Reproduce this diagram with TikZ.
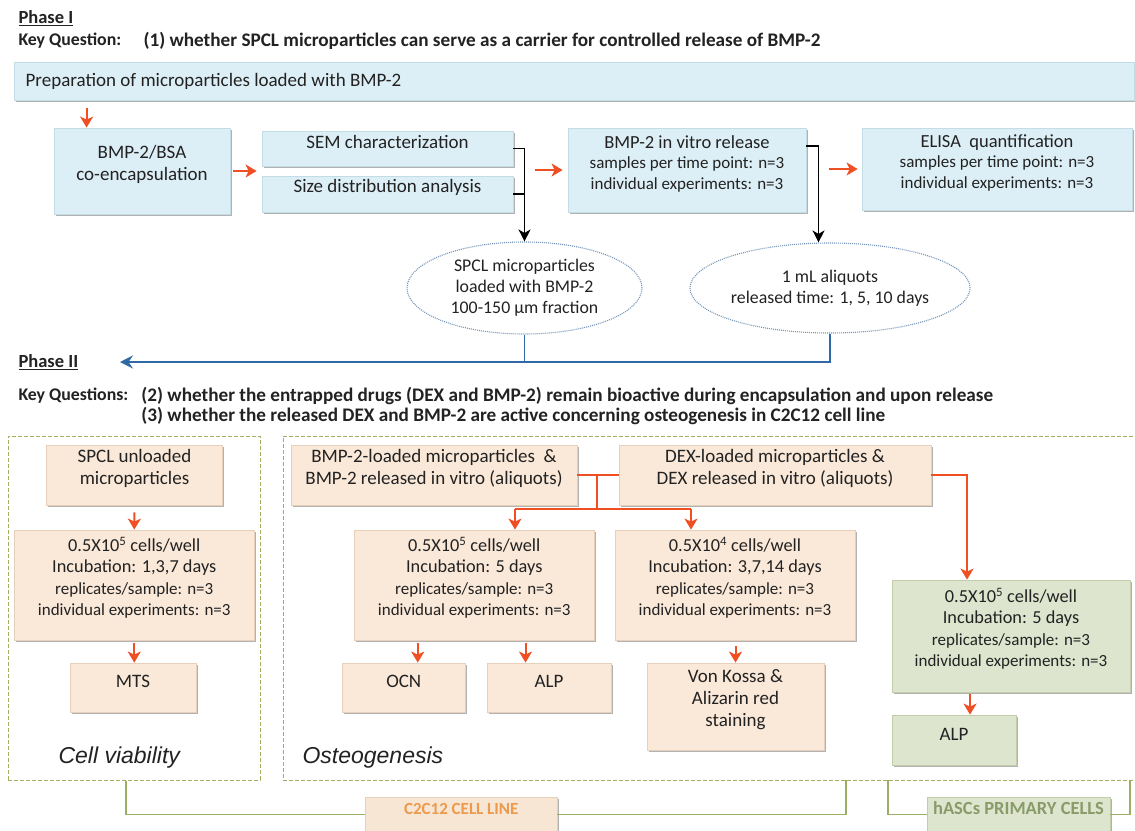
\documentclass[tikz,border=0pt]{standalone}
\usepackage{fontspec}
\setmainfont{Carlito}
\newfontfamily\arialf{Liberation Sans}
\usetikzlibrary{arrows.meta,shapes.geometric,fit,shadows,calc}
\definecolor{txt}{HTML}{222222}
\definecolor{bfill}{HTML}{DDEFF6}
\definecolor{bdraw}{HTML}{C4DCE6}
\definecolor{pfill}{HTML}{FAE9D9}
\definecolor{pdraw}{HTML}{E6D0BC}
\definecolor{gfill}{HTML}{DDE5CE}
\definecolor{gdraw}{HTML}{C2CDAA}
\definecolor{rarrc}{HTML}{F04E23}
\definecolor{bline}{HTML}{2F6AA6}
\definecolor{edot}{HTML}{7595BA}
\definecolor{olive}{HTML}{A5AF62}
\definecolor{gline}{HTML}{9AAE66}
\definecolor{c2c}{HTML}{EC9A4E}
\definecolor{c2cfill}{HTML}{F8E6D4}
\definecolor{hasc}{HTML}{8A9B6A}
\newcommand\fM{\fontsize{19}{22}\selectfont}
\newcommand\fT{\fontsize{18.5}{20.5}\selectfont}
\newcommand\fS{\fontsize{17}{20.5}\selectfont}
\newcommand\fC{\fontsize{18.3}{21.5}\selectfont}
\newcommand\fKl{\fontsize{17.8}{20}\selectfont}
\newcommand\fKa{\fontsize{19.2}{20}\selectfont}
\newcommand\fKb{\fontsize{19.2}{20}\selectfont}
\newcommand\fP{\fontsize{18.5}{22}\selectfont}
\newcommand\fE{\fontsize{17.8}{21}\selectfont}
\begin{document}
\begin{tikzpicture}[x=1pt,y=-1pt,
  every node/.style={text=txt},
  bbox/.style={fill=bfill, draw=bdraw, line width=0.8pt, inner sep=0pt, align=center, font=\fM,
    drop shadow={shadow xshift=1.8pt,shadow yshift=-1.8pt,opacity=0.3,fill=black}},
  pbox/.style={bbox, fill=pfill, draw=pdraw},
  gbox/.style={bbox, fill=gfill, draw=gdraw},
  ell/.style={ellipse, draw=edot, dash pattern=on 1pt off 1pt, line width=1.1pt, inner sep=0pt, align=center, font=\fE},
  rarr/.style={draw=rarrc, line width=2pt, -{Stealth[length=11pt,width=13pt,inset=3pt]}},
  rline/.style={draw=rarrc, line width=2pt},
  blk/.style={draw=black, line width=1.4pt, -{Stealth[length=12pt,width=12pt,inset=3.5pt]}},
  blkline/.style={draw=black, line width=1.4pt},
  bluel/.style={draw=bline, line width=1.8pt},
  dashbox/.style={draw=olive, line width=1pt, dash pattern=on 4pt off 2pt, inner sep=0pt},
  gl/.style={draw=gline, line width=1.6pt},
  lab/.style={inner sep=0pt, line width=0.8pt, font=\bfseries,
    drop shadow={shadow xshift=1.8pt,shadow yshift=-1.8pt,opacity=0.3,fill=black}}
]
\fill[white] (0,0) rectangle (1135,830);
\useasboundingbox (0,0) rectangle (1135,830);

% ---------- Phase I ----------
\node[anchor=west, font=\bfseries\fP] (ph1) at (15,18) {\underline{Phase I}};
\node[anchor=west, font=\bfseries\fKl] (kq1) at (15,41) {Key Question:};
\node[anchor=west, font=\bfseries\fKa] (kq1t) at (140,41) {(1) whether SPCL microparticles can serve as a carrier for controlled release of BMP-2};

\node[bbox, fit={(14,62)(1134,100)}] (prep) {};
\node[anchor=west, font=\fM] (preptxt) at ([xshift=8.5pt]prep.west) {Preparation of microparticles loaded with BMP-2};

\node[bbox, fit={(54,128)(230,214)}] (bmpbsa) {BMP-2/BSA\\co-encapsulation};
\node[bbox, fit={(262,131)(513,166)}] (sem) {SEM characterization};
\node[bbox, fit={(262,176)(513,212)}] (size) {Size distribution analysis};
\node[bbox, fit={(568,128)(806,212)}, font=\fS] (vitro) {{\fT BMP-2 in vitro release}\\samples per time point: n=3\\individual experiments: n=3};
\node[bbox, fit={(862,128)(1132,210)}, font=\fS] (elisa) {{\fT ELISA\ \ quantification}\\samples per time point: n=3\\individual experiments: n=3};

\node[ell, minimum width=235pt, minimum height=92pt] (e1) at (524.5,288) {SPCL microparticles\\loaded with BMP-2\\100-150 µm fraction};
\node[ell, minimum width=232pt, minimum height=90pt] (e2) at (830,288) {1 mL aliquots\\released time: 1, 5, 10 days};

\draw[rarr, shorten <=8pt] ([xshift=73pt]prep.south west) -- ([xshift=33pt]bmpbsa.north west);
\draw[rarr, shorten <=3pt, shorten >=5pt] (bmpbsa.east) -- (bmpbsa.east -| sem.west);
\draw[blk] (sem.east) -| (e1.north);
\draw[blkline] (size.east) -- (size.east -| e1.north);
\draw[rarr] ([xshift=-33pt]vitro.west) -- ([xshift=-5pt]vitro.west);
\draw[blk] ([yshift=24pt]vitro.east) -| ([xshift=-11.5pt]e2.north);
\draw[rarr] ([xshift=-33pt]elisa.west) -- ([xshift=-4pt]elisa.west);

\coordinate (p2tip) at (120,362);
\draw[bluel, -{Stealth[length=13pt,width=13pt,inset=4.5pt]}] (e2.south) |- (p2tip);
\draw[bluel] (e1.south) -- (e1.south |- p2tip);

% ---------- Phase II ----------
\node[anchor=west, font=\bfseries\fP] (ph2) at (15,362) {\underline{Phase II}};
\node[anchor=west, font=\bfseries\fKl] (kq2) at (15,396) {Key Questions:};
\node[anchor=west, font=\bfseries\fKb] (kq2a) at ([xshift=6pt]kq2.east) {(2) whether the entrapped drugs (DEX and BMP-2) remain bioactive during encapsulation and upon release};
\node[anchor=west, font=\bfseries\fKb] (kq2b) at ([yshift=-20pt]kq2a.west) {(3) whether the released DEX and BMP-2 are active concerning osteogenesis in C2C12 cell line};

\node[dashbox, fit={(8,436)(260,780)}] (vbox) {};
\node[dashbox, fit={(283,436)(1145,780)}] (obox) {};

\node[anchor=west, font=\arialf\itshape\fontsize{23}{26}\selectfont] (cv) at (55,758) {Cell viability};
\node[anchor=west, font=\arialf\itshape\fontsize{23}{26}\selectfont] (os) at (299,758) {Osteogenesis};

% left column
\node[pbox, fit={(46.5,445)(222.5,505)}] (spcl) {SPCL unloaded\\microparticles};
\node[pbox, fit={(14.5,530)(254,640)}, font=\fC] (cells1) {0.5X10\textsuperscript{5} cells/well\\Incubation: 1,3,7 days\\{\fS replicates/sample: n=3}\\{\fS individual experiments: n=3}};
\node[pbox, fit={(70,663)(196,712)}] (mts) {MTS};
\draw[rarr, shorten <=7pt] (spcl.south) -- (cells1.north);
\draw[rarr, shorten <=3pt] (cells1.south) -- (cells1.south |- mts.north);

% osteogenesis
\node[pbox, fit={(291,445)(577,505)}] (bmpb) {BMP-2-loaded microparticles\ \ \&\\BMP-2 released in vitro (aliquots)};
\node[pbox, fit={(619,445)(931,505)}] (dexb) {DEX-loaded microparticles \&\\DEX released in vitro (aliquots)};
\node[pbox, fit={(354.5,530)(594,640)}, font=\fC] (cells2) {0.5X10\textsuperscript{5} cells/well\\Incubation: 5 days\\{\fS replicates/sample: n=3}\\{\fS individual experiments: n=3}};
\node[pbox, fit={(615,530)(855,640)}, font=\fC] (cells3) {0.5X10\textsuperscript{4} cells/well\\Incubation: 3,7,14 days\\{\fS replicates/sample: n=3}\\{\fS individual experiments: n=3}};
\node[pbox, fit={(342,663)(465.5,712)}] (ocn) {OCN};
\node[pbox, fit={(487,663)(611,712)}] (alp) {ALP};
\node[pbox, fit={(647,663)(824,750)}] (vk) {Von Kossa \&\\Alizarin red\\staining};
\node[gbox, fit={(892,580)(1130,692)}, font=\fC] (grn) {0.5X10\textsuperscript{5} cells/well\\Incubation: 5 days\\{\fS replicates/sample: n=3}\\{\fS individual experiments: n=3}};
\node[gbox, fit={(892,715)(1016,765)}] (alpg) {ALP};

\draw[rline] (bmpb.east) -- (dexb.west);
\coordinate (tj) at (597,509);
\coordinate (ja) at (515,509);
\coordinate (jb) at (691,509);
\draw[rline] (tj |- bmpb.east) -- (tj);
\draw[rline] (ja) -- (jb);
\draw[rarr] (ja) -- (ja |- cells2.north);
\draw[rarr] (jb) -- (jb |- cells3.north);

\coordinate (ocnA) at ([xshift=14pt]ocn.north);
\draw[rarr, shorten <=3pt] (ocnA |- cells2.south) -- (ocnA);
\coordinate (alpA) at ([xshift=-23.5pt]alp.north);
\draw[rarr, shorten <=3pt] (alpA |- cells2.south) -- (alpA);
\draw[rarr, shorten <=6pt] (cells3.south -| vk.north) -- (vk.north);
\coordinate (grnA) at ([xshift=-44pt]grn.north);
\draw[rarr] (dexb.east) -| (grnA);
\coordinate (alpgA) at ([xshift=16pt]alpg.north);
\draw[rarr, shorten <=2pt] (alpgA |- grn.south) -- (alpgA);

% bottom labels
\node[lab, fill=c2cfill, draw=pdraw, text=c2c, fit={(365.5,797)(557,832)}, font=\bfseries\fontsize{17}{19}\selectfont] (lab1) {C2C12 CELL LINE};
\node[lab, fill=gfill, draw=gdraw, text=hasc, fit={(927,797)(1110,832)}, font=\bfseries\fontsize{18.5}{20}\selectfont] (lab2) {hASCs PRIMARY CELLS};
\draw[gl] ([xshift=118.5pt]vbox.south west) |- (lab1.west);
\coordinate (ob1) at (846,780);
\draw[gl] (lab1.east) -| (ob1);
\coordinate (ob2) at (888,780);
\coordinate (ob3) at (1130,780);
\draw[gl] (ob2) |- (lab2.west);
\draw[gl] (lab2.east) -| (ob3);
\end{tikzpicture}
\end{document}
